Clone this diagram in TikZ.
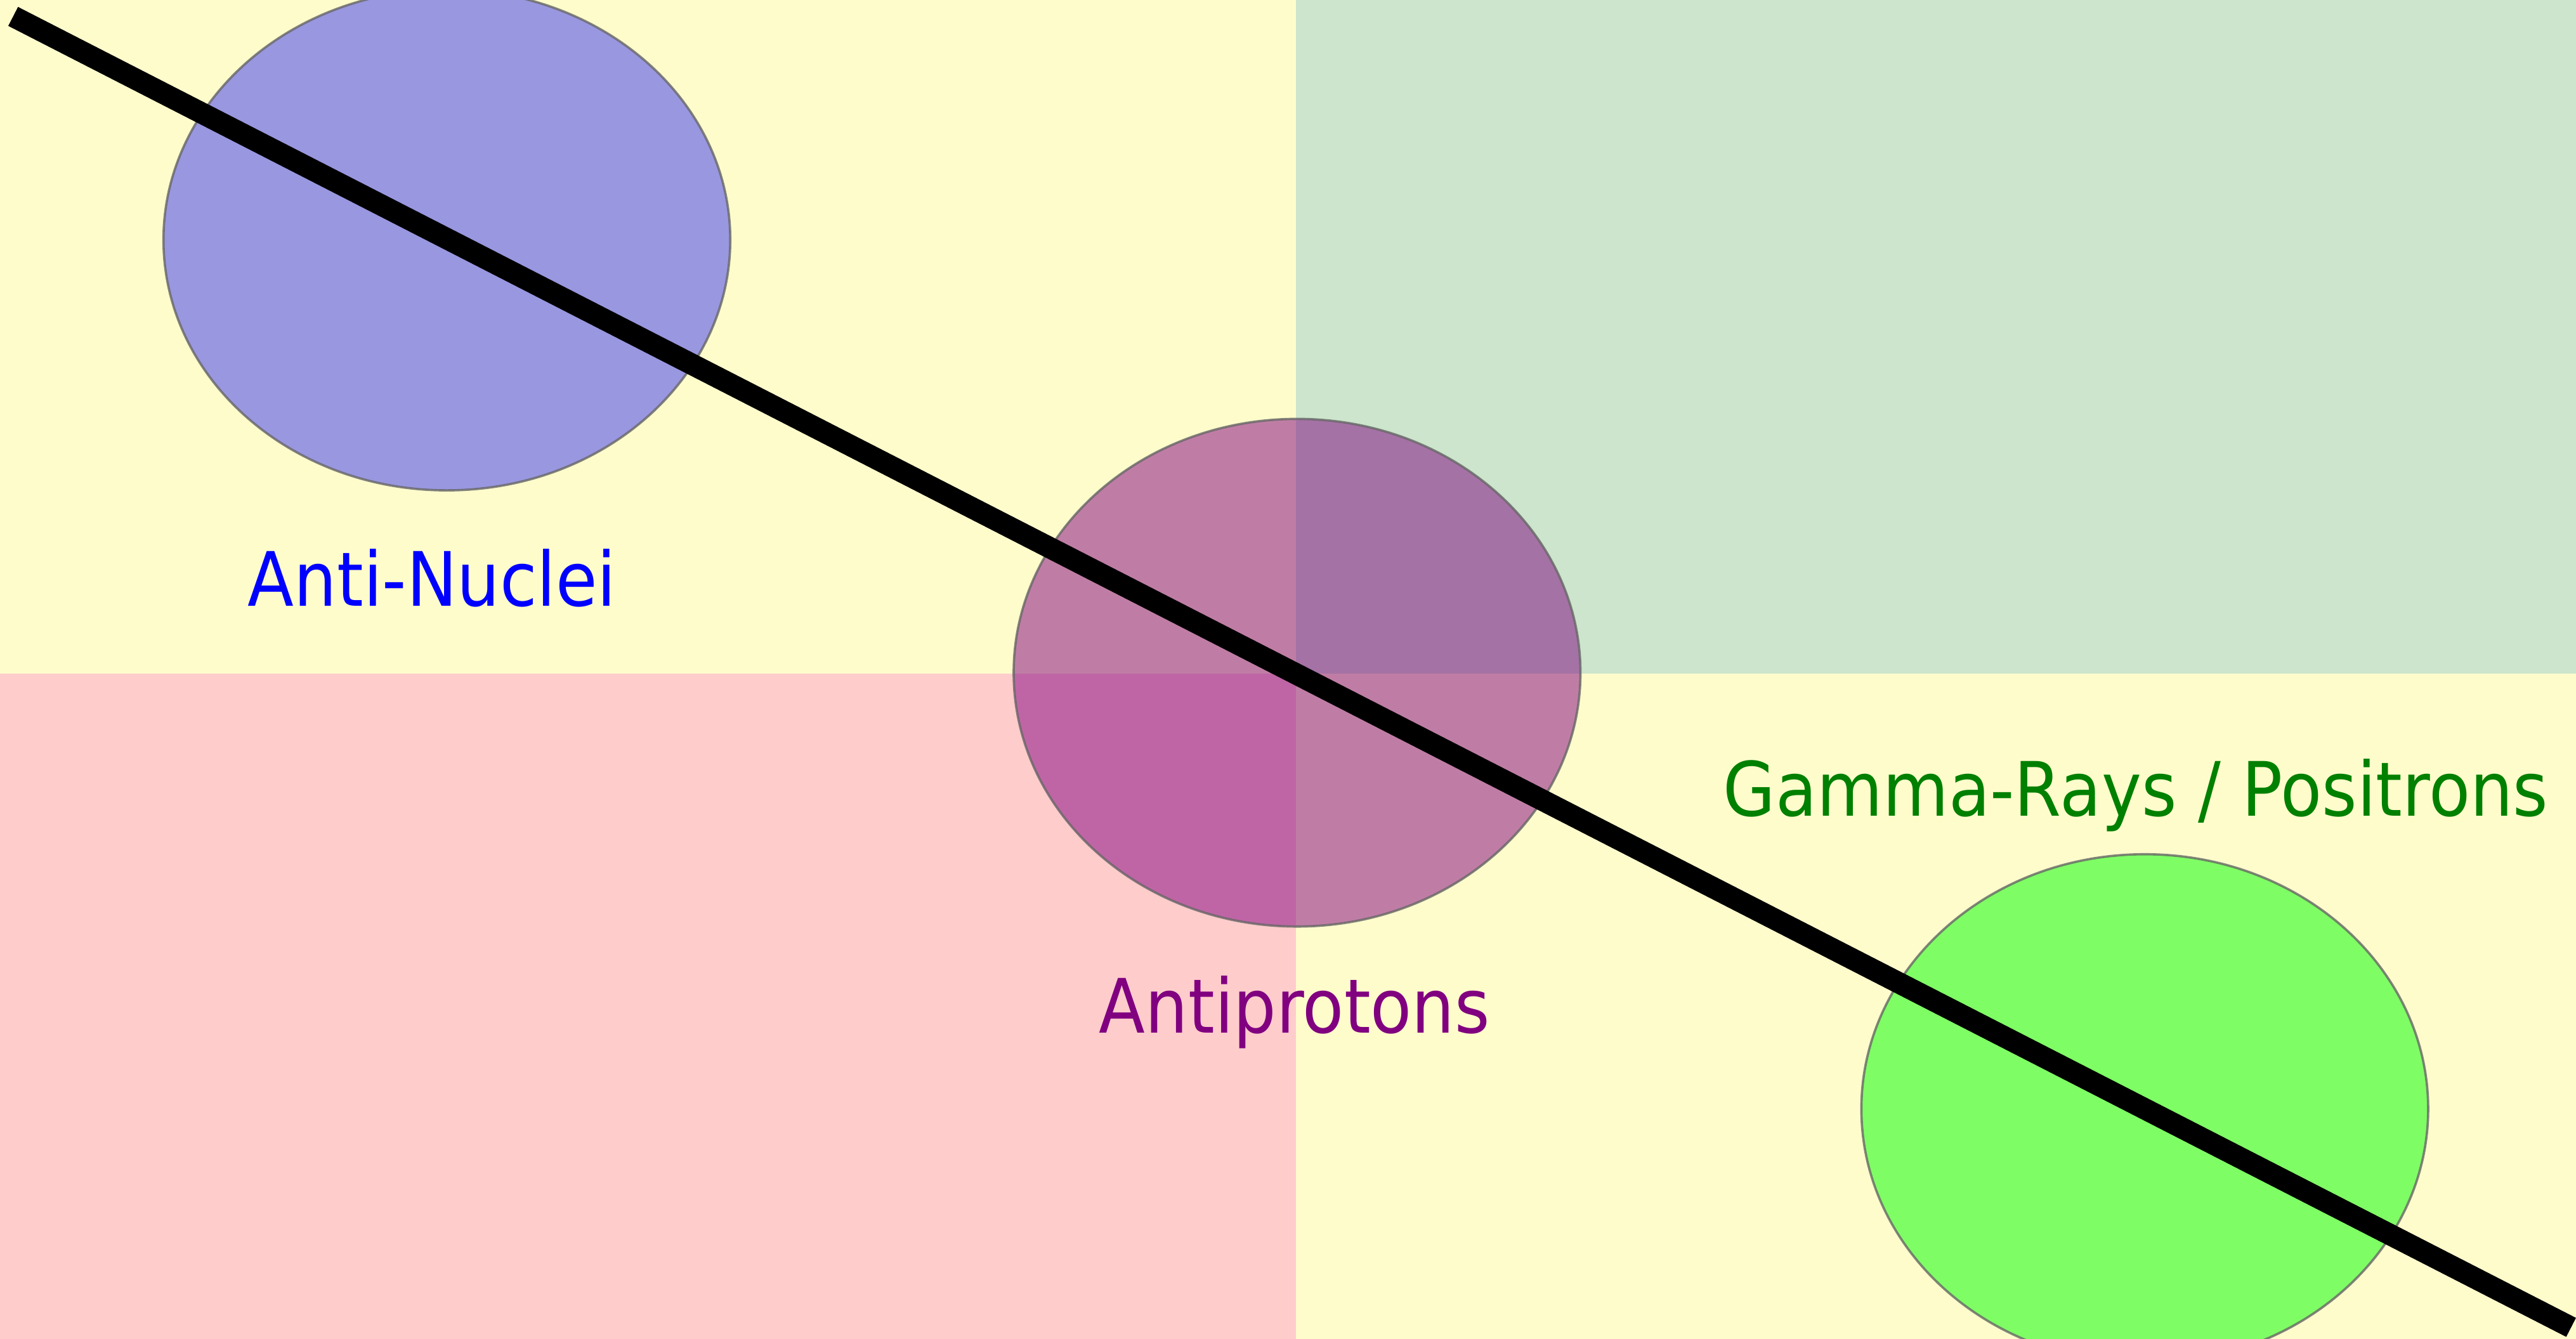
\documentclass[tikz,border=0pt]{standalone}
\usepackage{fontspec}
\setmainfont{DejaVu Sans}[FakeStretch=0.9]
\usepackage{tikz}
\usetikzlibrary{shapes}
\usetikzlibrary{shapes.geometric}
\definecolor{antipurple}{RGB}{128,0,128}
\definecolor{antigreen}{RGB}{0,128,0}

\begin{document}
\begin{tikzpicture}

			% 画布大小
			\useasboundingbox (0,0) rectangle (15.68,-8.15);
			
			% 四个区域
			\fill[yellow!20] (0,0) rectangle (7.89,-4.10);
			\fill[antigreen!20] (7.89,0) rectangle (15.68,-4.10);
			\fill[red!20] (0,-4.10) rectangle (7.89,-8.15);
			\fill[yellow!20] (7.89,-4.10) rectangle (15.68,-8.15);
			
			% 绘制三个椭圆
			\node[draw=black!60,ellipse,inner sep=0,fill=blue,fill opacity=0.4,draw opacity=0.8,minimum width=3.45cm,minimum height=3.05cm] (nuclei) at (2.72,-1.46) {};
			\node[draw=black!60,ellipse,inner sep=0,fill=antipurple,fill opacity=0.5,draw opacity=0.8,minimum width=3.45cm,minimum height=3.09cm] (protons) at (7.895,-4.095) {};
			\node[draw=black!60,ellipse,inner sep=0,fill=green,fill opacity=0.5,draw opacity=0.8,minimum width=3.45cm,minimum height=3.10cm] (gamma) at (13.055,-6.75) {};
			
			% 放置文字
			\node[blue,font=\fontsize{13}{16}\selectfont] (nucleitext) at (2.63,-3.52) {Anti-Nuclei};
			\node[antipurple,font=\fontsize{13}{16}\selectfont] (protonstext) at (7.88,-6.16) {Antiprotons};
			\node[antigreen,font=\fontsize{13}{16}\selectfont] (gammatext) at (13.00,-4.84) {Gamma-Rays / Positrons};
			
			% 绘制斜线
			\coordinate (start) at (0.08,-0.10);
			\coordinate (end) at (15.65,-8.08);
			\draw[line width=3.7pt,black] (start) -- (end);
			
		\end{tikzpicture}
\end{document}
